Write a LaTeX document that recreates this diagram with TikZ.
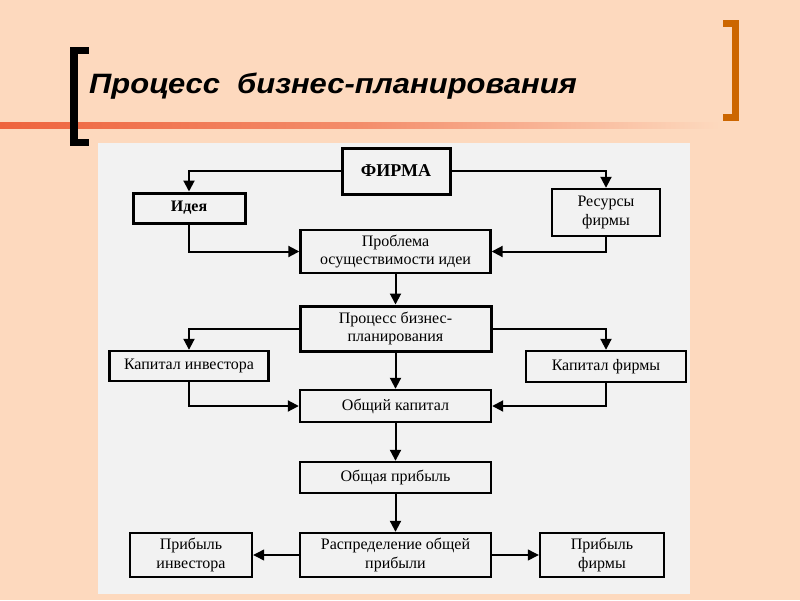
\documentclass[tikz,border=0pt]{standalone}
\usepackage{fontspec}
\setmainfont{Liberation Serif}
\newfontfamily\titlefont{Liberation Sans}
\usetikzlibrary{arrows.meta}
\definecolor{bgpeach}{RGB}{253,217,190}
\definecolor{panelgray}{RGB}{242,242,242}
\definecolor{bracketor}{RGB}{204,102,0}
\definecolor{lineor}{RGB}{238,100,62}
\tikzset{
  box/.style={draw, line width=2.4pt, fill=panelgray, inner sep=0pt, align=center,
    font=\fontsize{16}{18.5}\selectfont},
  conn/.style={line width=2pt, -{Triangle[length=11pt,width=11pt]}},
  thinconn/.style={line width=1.2pt, -{Triangle[length=11pt,width=11pt]}}
}
\begin{document}
\begin{tikzpicture}[x=1pt,y=-1pt]
\useasboundingbox (0,0) rectangle (800,600);
\fill[bgpeach] (0,0) rectangle (800,600);
\fill[panelgray] (98,143) rectangle (690,594);
\shade[left color=lineor, right color=bgpeach, middle color=lineor!65!bgpeach] (0,122) rectangle (720,128);
% brackets
\fill[black] (70,47) rectangle (89,54);
\fill[black] (70,47) rectangle (78,146);
\fill[black] (70,139) rectangle (89,146);
\fill[bracketor] (723,20) rectangle (739,27);
\fill[bracketor] (732,20) rectangle (739,121);
\fill[bracketor] (723,114) rectangle (739,121);
% title
\node[anchor=base west, inner sep=0pt, font=\titlefont\fontsize{28}{32}\selectfont\bfseries\itshape] (title) at (89,93) {\scalebox{1.105}[1]{Процесс\ \ бизнес-планирования}};
% boxes
\node[box, line width=3pt, minimum width=108pt, minimum height=46pt, font=\fontsize{18}{20}\selectfont\bfseries] (firma) at (396,171) {ФИРМА};
\node[box, line width=3pt, minimum width=112pt, minimum height=30pt, font=\fontsize{16}{18}\selectfont\bfseries] (idea) at (189,208) {Идея};
\node[box, minimum width=108pt, minimum height=47pt] (res) at (606,212.5) {Ресурсы\\фирмы};
\node[box, minimum width=190pt, minimum height=43pt] (prob) at (395.5,251.5) {Проблема\\осуществимости идеи};
\node[box, line width=3pt, minimum width=191pt, minimum height=45pt] (proc) at (395.5,328.5) {Процесс бизнес-\\планирования};
\node[box, minimum width=159pt, minimum height=30pt] (kinv) at (189,366) {Капитал инвестора};
\node[box, minimum width=160pt, minimum height=31pt] (kfirm) at (606,366.5) {Капитал фирмы};
\node[box, minimum width=191pt, minimum height=32pt] (obk) at (395.5,406) {Общий капитал};
\node[box, minimum width=191pt, minimum height=31pt] (obp) at (395.5,477.5) {Общая прибыль};
\node[box, minimum width=191pt, minimum height=44pt] (rasp) at (395.5,555) {Распределение общей\\прибыли};
\node[box, minimum width=122pt, minimum height=44pt] (pinv) at (191,555) {Прибыль\\инвестора};
\node[box, minimum width=124pt, minimum height=44pt] (pfirm) at (602,555) {Прибыль\\фирмы};
% connectors
\draw[conn] (firma.west) -| (idea.north);
\draw[conn] (firma.east) -| (res.north);
\draw[conn] (idea.south) |- (prob.west);
\draw[conn] (res.south) |- (prob.east);
\draw[conn] (prob.south) -- (proc.north);
\draw[conn] (proc.west) -| (kinv.north);
\draw[conn] (proc.east) -| (kfirm.north);
\draw[conn] (kinv.south) |- (obk.west);
\draw[conn] (kfirm.south) |- (obk.east);
\draw[conn] (proc.south) -- (obk.north);
\draw[conn] (obk.south) -- (obp.north);
\draw[conn] (obp.south) -- (rasp.north);
\draw[thinconn] (rasp.west) -- (pinv.east);
\draw[thinconn] (rasp.east) -- (pfirm.west);
\end{tikzpicture}
\end{document}
